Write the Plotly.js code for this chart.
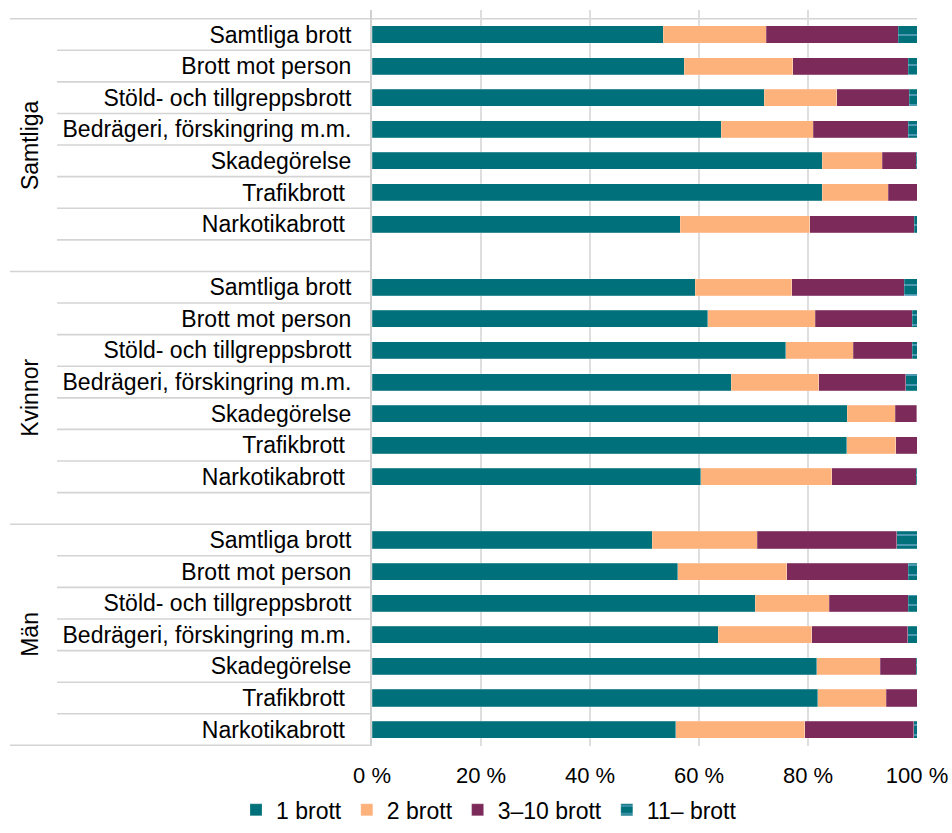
<!DOCTYPE html>
<html>
<head>
<meta charset="utf-8">
<script src="https://cdn.plot.ly/plotly-3.0.1.min.js"></script>
<style>html,body{margin:0;padding:0;background:#fff;}</style>
</head>
<body>
<div id="chart" style="width:952px;height:833px;"></div>
<script>
// ---- data ----
const groups = ["Samtliga", "Kvinnor", "Män"];
const categories = [
  "Samtliga brott",
  "Brott mot person",
  "Stöld- och tillgreppsbrott",
  "Bedrägeri, förskingring m.m.",
  "Skadegörelse",
  "Trafikbrott\u00a0",
  "Narkotikabrott\u00a0"
];
const seriesNames = ["1 brott", "2 brott", "3–10 brott", "11– brott"];
const xTickValues = [0, 20, 40, 60, 80, 100];
const xTickLabels = ["0 %", "20 %", "40 %", "60 %", "80 %", "100 %"];

// values in percent, per group (Samtliga, Kvinnor, Män), categories in order above
const brott1 = [
  53.4, 57.3, 72.0, 64.1, 82.6, 82.6, 56.6,
  59.3, 61.6, 75.9, 65.9, 87.2, 87.1, 60.3,
  51.4, 56.1, 70.3, 63.5, 81.6, 81.8, 55.7
];
const brott2 = [
  18.9, 19.9, 13.3, 16.9, 11.0, 12.1, 23.7,
  17.7, 19.7, 12.4, 16.1, 8.8, 9.0, 24.1,
  19.3, 20.0, 13.6, 17.2, 11.7, 12.6, 23.7
];
const brott3_10 = [
  24.3, 21.2, 13.3, 17.4, 6.3, 5.3, 19.2,
  20.7, 17.8, 10.8, 15.9, 3.95, 3.9, 15.5,
  25.6, 22.3, 14.5, 17.6, 6.6, 5.6, 20.0
];
const brott11 = [
  3.4, 1.6, 1.4, 1.6, 0.1, 0.05, 0.5,
  2.3, 0.9, 0.9, 2.1, 0.05, 0.05, 0.1,
  3.7, 1.6, 1.6, 1.7, 0.1, 0.05, 0.6
];

// ---- styling ----
const colors = ["#00717A", "#FDB17B", "#7B2A59", "#00717A"];
const FONT = "Liberation Sans, Arial, sans-serif";
const slotsPerGroup = categories.length + 1; // one blank slot between groups

// positions on the (numeric) category axis
const ypos = [];
const tickText = [];
groups.forEach((g, gi) => {
  categories.forEach((c, ci) => {
    ypos.push(gi * slotsPerGroup + ci);
    tickText.push(c);
  });
});

const seriesValues = [brott1, brott2, brott3_10, brott11];
const traces = seriesValues.map((vals, si) => {
  const t = {
    type: "bar",
    orientation: "h",
    name: seriesNames[si],
    x: vals,
    y: ypos,
    marker: {
      color: colors[si],
      line: {color: "rgba(255,255,255,0.35)", width: 0.6}
    },
    hoverinfo: "name+x"
  };
  if (si === 3) {
    t.marker.pattern = {shape: "-", fgcolor: "#7fb2d9", bgcolor: colors[3], size: 10, solidity: 0.12};
  }
  return t;
});

// geometry helpers for the label column (in paper units of x)
const plotLeftPx = 372, plotWidthPx = 545;
const px2paper = p => (p - plotLeftPx) / plotWidthPx;

const lastIdx = (groups.length - 1) * slotsPerGroup + categories.length - 1;
const yTop = -0.775, yBottom = lastIdx + 0.52;

const shapes = [];
const lineStyle = {color: "#d4d4d4", width: 1.6};
// top line across the whole chart
shapes.push({type: "line", xref: "paper", yref: "y", x0: px2paper(10), x1: 1, y0: -0.5, y1: -0.5, line: lineStyle, layer: "below"});
groups.forEach((g, gi) => {
  const base = gi * slotsPerGroup;
  const nInner = gi < groups.length - 1 ? categories.length : categories.length - 1;
  for (let i = 0; i < nInner; i++) {
    const yy = base + i + 0.5;
    shapes.push({type: "line", xref: "paper", yref: "y", x0: px2paper(57), x1: 0, y0: yy, y1: yy, line: lineStyle});
  }
  const yg = gi < groups.length - 1 ? base + slotsPerGroup - 0.5 : base + categories.length - 0.5;
  shapes.push({type: "line", xref: "paper", yref: "y", x0: px2paper(10), x1: 0, y0: yg, y1: yg, line: lineStyle});
});

const annotations = groups.map((g, gi) => {
  const start = gi * slotsPerGroup - 0.5;
  const end = gi < groups.length - 1 ? start + slotsPerGroup : start + categories.length;
  return {
    text: g, xref: "paper", yref: "y", x: px2paper(30), y: (start + end) / 2,
    textangle: -90, showarrow: false, xanchor: "center", yanchor: "middle",
    font: {family: FONT, size: 23, color: "#000"}
  };
});

const layout = {
  width: 952, height: 833,
  margin: {l: 372, r: 35, t: 10, b: 87, pad: 0, autoexpand: false},
  paper_bgcolor: "#fff", plot_bgcolor: "#fff",
  barmode: "stack",
  bargap: 0.46,
  showlegend: true,
  legend: {
    orientation: "h", traceorder: "normal",
    x: px2paper(489), xanchor: "center",
    y: -0.116, yanchor: "bottom",
    font: {family: FONT, size: 23, color: "#000"},
    itemwidth: 30, itemclick: false
  },
  xaxis: {
    range: [0, 100],
    tickmode: "array",
    tickvals: xTickValues, ticktext: xTickLabels,
    showgrid: true, gridcolor: "#dedede", gridwidth: 1.2,
    zeroline: false, showline: false,
    ticks: "", ticklabelstandoff: 14,
    tickfont: {family: FONT, size: 22, color: "#000"},
    automargin: false,
    fixedrange: true
  },
  yaxis: {
    range: [yBottom, yTop],
    tickmode: "array",
    tickvals: ypos, ticktext: tickText,
    showgrid: false, zeroline: false,
    showline: true, linecolor: "#d0d0d0", linewidth: 2,
    ticks: "", ticklabelstandoff: 14,
    tickfont: {family: FONT, size: 23, color: "#000"},
    automargin: false,
    fixedrange: true
  },
  shapes: shapes,
  annotations: annotations,
  font: {family: FONT, color: "#000"}
};

Plotly.newPlot("chart", traces, layout, {displayModeBar: false, staticPlot: true});
</script>
</body>
</html>
